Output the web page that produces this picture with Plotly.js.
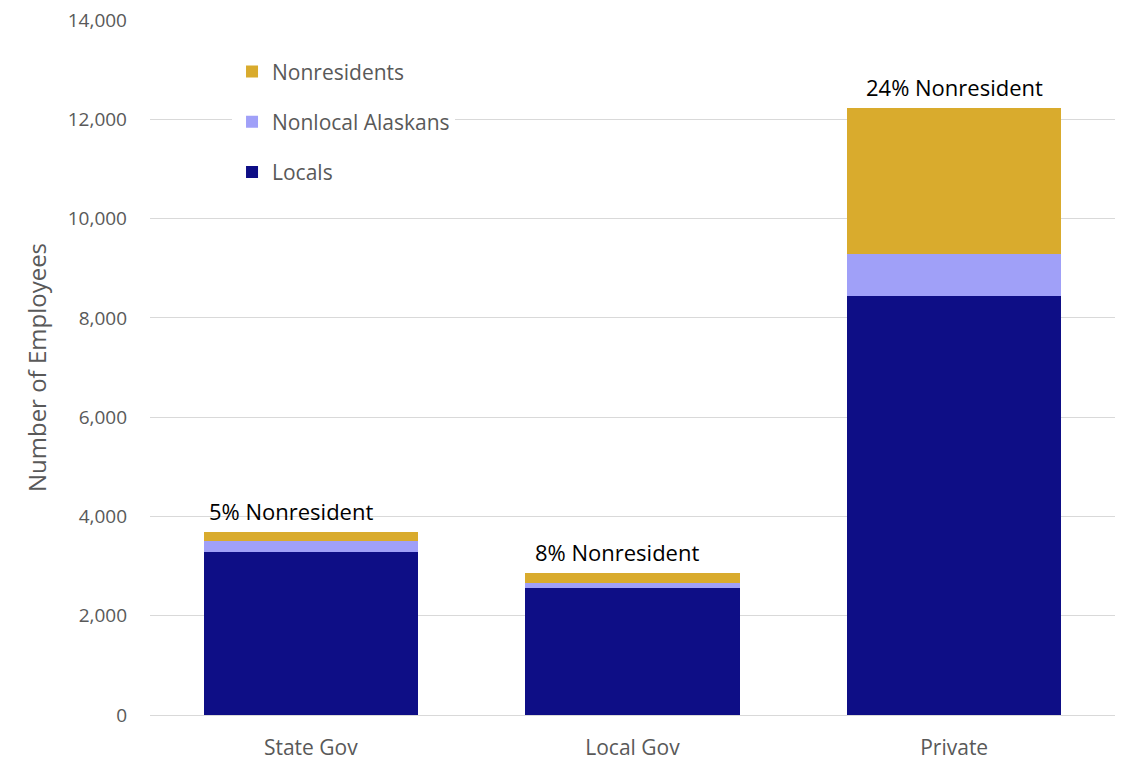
<!DOCTYPE html>
<html>
<head>
<meta charset="utf-8">
<script src="https://cdn.plot.ly/plotly-3.0.1.min.js"></script>
<style>html,body{margin:0;padding:0;background:#fff;}#chart{width:1123px;height:762px;}</style>
</head>
<body>
<div id="chart"></div>
<script>
const categories = ["State Gov", "Local Gov", "Private"];
const locals = [3290, 2564, 8447];
const nonlocalAlaskans = [215, 89, 834];
const nonresidents = [188, 214, 2953];
const pctLabels = ["5% Nonresident", "8% Nonresident", "24% Nonresident"];

const FONT = "'Open Sans', 'Noto Sans', sans-serif";
const totals = categories.map((c, i) => locals[i] + nonlocalAlaskans[i] + nonresidents[i]);

const traces = [
  {name: "Locals", x: categories, y: locals, type: "bar", marker: {color: "#0E0E86"}, legendgroup: "a", legendrank: 3},
  {name: "Nonlocal Alaskans", x: categories, y: nonlocalAlaskans, type: "bar", marker: {color: "#A0A0F8"}, legendgroup: "b", legendrank: 2},
  {name: "Nonresidents", x: categories, y: nonresidents, type: "bar", marker: {color: "#D9AB2D"}, legendgroup: "c", legendrank: 1}
];

const xshifts = [-20, -16, 0];
const annotations = categories.map((c, i) => ({
  x: c, y: totals[i], xref: "x", yref: "y",
  text: pctLabels[i], showarrow: false,
  yanchor: "bottom", yshift: 4, xshift: xshifts[i],
  font: {family: FONT, size: 22, color: "#000000"}
}));

const layout = {
  width: 1123, height: 762,
  margin: {l: 150, r: 8, t: 20, b: 47},
  paper_bgcolor: "#ffffff", plot_bgcolor: "#ffffff",
  barmode: "stack", bargap: 0.333,
  font: {family: FONT, color: "#595959", size: 19},
  showlegend: true,
  legend: {
    x: 0.085, y: 0.955, xanchor: "left", yanchor: "top",
    traceorder: "grouped", tracegroupgap: 20,
    bgcolor: "#ffffff",
    font: {family: FONT, size: 21, color: "#595959"}
  },
  xaxis: {
    type: "category", showgrid: false, zeroline: false,
    showline: true, linecolor: "#d9d9d9", linewidth: 1,
    ticks: "", ticklabelstandoff: 14,
    tickfont: {family: FONT, size: 21, color: "#595959"}
  },
  yaxis: {
    range: [0, 14000], tick0: 0, dtick: 2000,
    tickformat: ",d", showgrid: true, gridcolor: "#d9d9d9", gridwidth: 1,
    zeroline: false, showline: false, ticks: "", ticklabelstandoff: 22,
    tickfont: {family: FONT, size: 19, color: "#595959"},
    title: {text: "Number of Employees", font: {family: FONT, size: 24, color: "#595959"}, standoff: 14}
  },
  annotations: annotations
};

Plotly.newPlot("chart", traces, layout, {displayModeBar: false, staticPlot: true});
</script>
</body>
</html>
